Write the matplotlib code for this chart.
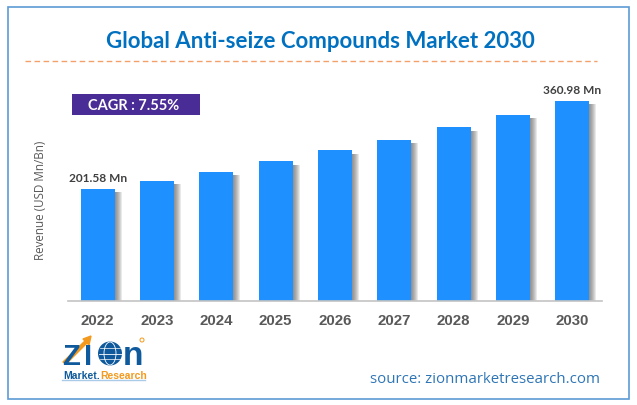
import matplotlib
matplotlib.use('Agg')
import matplotlib.pyplot as plt
from matplotlib.patches import Rectangle, Circle, Polygon, Ellipse

years = ['2022', '2023', '2024', '2025', '2026', '2027', '2028', '2029', '2030']
revenue = [201.58, 216.6, 232.8, 250.9, 270.8, 290.6, 312.3, 335.7, 360.98]
first_label = '201.58 Mn'
last_label = '360.98 Mn'

W, H = 637, 406
fig = plt.figure(figsize=(W / 100, H / 100), dpi=100, facecolor='white')

# chart axes, placed so the baseline lands at y=301 in pixels
ax = fig.add_axes([68 / W, (H - 301.5) / H, (602 - 68) / W, 240 / H])
ax.set_xlim(-0.5, 8.5)
ax.set_ylim(0, 433.2)
pos = list(range(len(years)))
bar_w = 0.573
px = 9 / 534  # one pixel in x data units

# soft shadow right of the bars
for i in range(1, 8):
    ax.bar([p + bar_w / 2 + i * px / 2 for p in pos], [v - 6 for v in revenue], width=i * px,
           color='#555555', alpha=0.13, zorder=1, linewidth=0)
ax.bar(pos, revenue, width=bar_w, color='#1e90ff', zorder=2, linewidth=0)

for s in ['top', 'right', 'left']:
    ax.spines[s].set_visible(False)
ax.spines['bottom'].set_color('#c4c4c4')
ax.spines['bottom'].set_linewidth(1.2)
ax.set_yticks([])
ax.set_xticks(pos)
ax.set_xticklabels(years, fontfamily='Liberation Sans', fontweight='bold', fontsize=10.8, color='#595959')
ax.tick_params(axis='x', length=0, pad=9)
ax.set_ylabel('Revenue (USD Mn/Bn)', fontfamily='Open Sans', fontsize=8.4, color='#595959', labelpad=0)
ax.yaxis.set_label_coords((47 - 68) / 534, 0.42)

ax.annotate(first_label, (pos[0], revenue[0]), xytext=(0, 6), textcoords='offset pixels', ha='center',
            va='bottom', fontfamily='Lato', fontweight='bold', fontsize=8.6, color='#404040')
ax.annotate(last_label, (pos[-1], revenue[-1]), xytext=(0, 6), textcoords='offset pixels', ha='center',
            va='bottom', fontfamily='Lato', fontweight='bold', fontsize=8.6, color='#404040')

# overlay in pixel coordinates for the frame, title and logo
ov = fig.add_axes([0, 0, 1, 1], facecolor='none')
ov.set_xlim(0, W)
ov.set_ylim(H, 0)
ov.axis('off')

ov.add_patch(Rectangle((7.5, 7.5), 621, 392.5, fill=False, edgecolor='#5b9bd5', linewidth=1.2))
ov.text(320, 41, 'Global Anti-seize Compounds Market 2030', ha='center', va='center',
        fontfamily='Lato', fontweight='bold', fontsize=16, color='#0070c0')
ov.plot([25, 597], [61.5, 61.5], color='#f4a06a', linewidth=1, dashes=(4, 2.5))

ov.add_patch(Rectangle((72, 95), 128, 21, facecolor='#4a2c96', edgecolor='none'))
ov.text(134, 106, 'CAGR : 7.55%', ha='center', va='center', fontfamily='Lato', fontweight='bold',
        fontsize=10.5, color='white')

# logo
blue = '#0f5a9c'
orange = '#f39a1e'
ov.text(62, 365, 'Z', ha='left', va='baseline', fontfamily='Liberation Sans', fontweight='bold',
        fontsize=21, color=blue)
ov.text(84, 365, 'I', ha='left', va='baseline', fontfamily='Liberation Sans', fontweight='bold',
        fontsize=21, color=blue)
ov.add_patch(Polygon([[63, 363], [86, 341], [88, 343], [66, 365]], color=orange))
ov.add_patch(Polygon([[91, 337], [83, 340], [89, 346]], color=orange))
ov.add_patch(Circle((110, 354.5), 12, facecolor=blue, edgecolor='none'))
ov.add_patch(Ellipse((110, 354.5), 12, 23, facecolor='none', edgecolor='white', linewidth=0.6))
ov.plot([98.5, 121.5], [354.5, 354.5], color='white', linewidth=0.6)
ov.plot([100, 120], [349, 349], color='white', linewidth=0.5)
ov.plot([100, 120], [360, 360], color='white', linewidth=0.5)
ov.text(123, 365, 'n', ha='left', va='baseline', fontfamily='Liberation Sans', fontweight='bold',
        fontsize=24, color=blue)
ov.add_patch(Circle((142, 341), 2, facecolor='none', edgecolor=orange, linewidth=0.7))
ov.text(63, 371, 'Market.', ha='left', va='top', fontfamily='Liberation Sans', fontweight='bold',
        fontsize=7.5, color=blue)
ov.text(100, 371, 'Research', ha='left', va='top', fontfamily='Liberation Sans', fontweight='bold',
        fontsize=7.5, color=orange)
ov.plot([62, 145], [380.5, 380.5], color='#a9cbe8', linewidth=1)

ov.text(600, 380, 'source: zionmarketresearch.com', ha='right', va='center', fontfamily='Open Sans',
        fontsize=10.8, color='#2e75b6')

fig.savefig('out.png', dpi=100)
